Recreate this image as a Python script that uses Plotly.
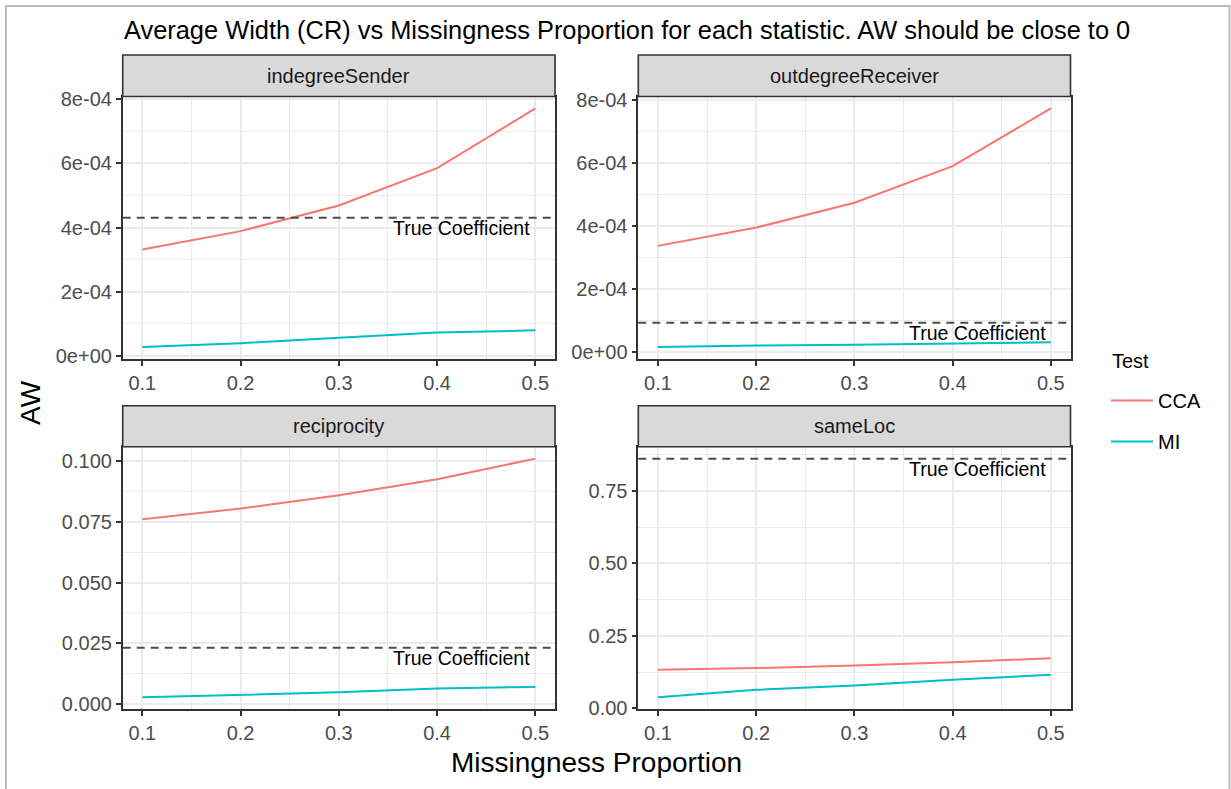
import plotly.graph_objects as go

# ---- data -------------------------------------------------------------
proportions = [0.1, 0.2, 0.3, 0.4, 0.5]
statistics = ["indegreeSender", "outdegreeReceiver", "reciprocity", "sameLoc"]
tests = ["CCA", "MI"]

cca_indegree = [3.32e-4, 3.89e-4, 4.69e-4, 5.85e-4, 7.71e-4]
mi_indegree = [0.28e-4, 0.40e-4, 0.57e-4, 0.73e-4, 0.80e-4]
cca_outdegree = [3.37e-4, 3.95e-4, 4.74e-4, 5.90e-4, 7.73e-4]
mi_outdegree = [0.16e-4, 0.21e-4, 0.23e-4, 0.27e-4, 0.31e-4]
cca_reciprocity = [0.0761, 0.0805, 0.0860, 0.0926, 0.1011]
mi_reciprocity = [0.0027, 0.0038, 0.0048, 0.0064, 0.0070]
cca_sameloc = [0.133, 0.139, 0.148, 0.159, 0.173]
mi_sameloc = [0.038, 0.064, 0.079, 0.099, 0.116]

true_coefficients = [4.31e-4, 0.93e-4, 0.0232, 0.8615]

sci_tickvals = [0, 2e-4, 4e-4, 6e-4, 8e-4]
sci_ticktext = ["0e+00", "2e-04", "4e-04", "6e-04", "8e-04"]
recip_tickvals = [0, 0.025, 0.05, 0.075, 0.1]
recip_ticktext = ["0.000", "0.025", "0.050", "0.075", "0.100"]
sameloc_tickvals = [0, 0.25, 0.5, 0.75]
sameloc_ticktext = ["0.00", "0.25", "0.50", "0.75"]

# ---- styling ----------------------------------------------------------
W, H = 1231, 789
FONT = "Liberation Sans, Arial, sans-serif"
colors = {"CCA": "#F8766D", "MI": "#00BFC4"}
GRID = "#EBEBEB"
DARK = "#333333"


def px(x):
    return x / W


def py(y):
    return 1 - y / H


cols = [(122.7, 555.0), (638.3, 1070.5)]
rows = [((55.0, 96.5), (96.5, 359.0)), ((405.7, 446.7), (446.7, 709.3))]

panels = [
    (cca_indegree, mi_indegree, sci_tickvals, sci_ticktext, 1e-4),
    (cca_outdegree, mi_outdegree, sci_tickvals, sci_ticktext, 1e-4),
    (cca_reciprocity, mi_reciprocity, recip_tickvals, recip_ticktext, 0.0125),
    (cca_sameloc, mi_sameloc, sameloc_tickvals, sameloc_ticktext, 0.125),
]

fig = go.Figure()
layout = dict(
    width=W, height=H,
    margin=dict(l=0, r=0, t=0, b=0, pad=0, autoexpand=False),
    paper_bgcolor="white", plot_bgcolor="white",
    font=dict(family=FONT, size=20, color="#4D4D4D"),
    showlegend=True,
)
shapes = []
annotations = []

for i, (stat, (cca, mi, tv, tt, minor_dy)) in enumerate(zip(statistics, panels)):
    n = i + 1
    r, c = divmod(i, 2)
    (s0, s1), (p0, p1) = rows[r]
    x0, x1 = cols[c]
    xa = "xaxis" if n == 1 else f"xaxis{n}"
    ya = "yaxis" if n == 1 else f"yaxis{n}"
    xr = "x" if n == 1 else f"x{n}"
    yr = "y" if n == 1 else f"y{n}"

    for test, vals in zip(tests, (cca, mi)):
        fig.add_trace(go.Scatter(
            x=proportions, y=vals, mode="lines", name=test,
            line=dict(color=colors[test], width=2),
            xaxis=xr, yaxis=yr, legendgroup=test, showlegend=(i == 0),
        ))

    # ggplot-style 5% expansion of the continuous scales
    xmin, xmax = min(proportions), max(proportions)
    xpad = 0.05 * (xmax - xmin)
    allv = list(cca) + list(mi) + [true_coefficients[i]]
    ymin, ymax = min(allv), max(allv)
    ypad = 0.05 * (ymax - ymin)

    common = dict(
        showgrid=True, gridcolor=GRID, gridwidth=1.6,
        showline=True, linecolor=DARK, linewidth=1.6, mirror=True,
        ticks="outside", ticklen=5, tickwidth=1.6, tickcolor=DARK,
        tickfont=dict(size=20, color="#4D4D4D"), zeroline=False,
        automargin=False,
    )
    layout[xa] = dict(
        domain=[px(x0), px(x1)], anchor=yr, range=[xmin - xpad, xmax + xpad],
        tickmode="linear", tick0=0.1, dtick=0.1,
        minor=dict(showgrid=True, gridcolor=GRID, gridwidth=0.8, tickmode="linear",
                   tick0=0.05, dtick=0.05, ticks=""),
        **common,
    )
    layout[ya] = dict(
        domain=[py(p1), py(p0)], anchor=xr, range=[ymin - ypad, ymax + ypad],
        tickmode="array", tickvals=tv, ticktext=tt,
        minor=dict(showgrid=True, gridcolor=GRID, gridwidth=0.8, tickmode="linear",
                   tick0=0, dtick=minor_dy, ticks=""),
        **common,
    )

    # facet strip
    shapes.append(dict(type="rect", xref="paper", yref="paper",
                       x0=px(x0), x1=px(x1), y0=py(s1), y1=py(s0),
                       fillcolor="#D9D9D9", line=dict(color=DARK, width=1.6), layer="above"))
    annotations.append(dict(text=stat, xref="paper", yref="paper",
                            x=px((x0 + x1) / 2), y=py((s0 + s1) / 2),
                            xanchor="center", yanchor="middle", showarrow=False,
                            font=dict(size=20, color="#1A1A1A")))

    # reference line for the true coefficient
    shapes.append(dict(type="line", xref=f"{xr} domain", yref=yr,
                       x0=0, x1=1, y0=true_coefficients[i], y1=true_coefficients[i],
                       line=dict(color="#4D4D4D", width=2, dash="8px,6px")))
    annotations.append(dict(text="True Coefficient", xref=xr, yref=yr,
                            x=0.425, y=true_coefficients[i], yshift=-10,
                            xanchor="center", yanchor="middle", showarrow=False,
                            font=dict(size=19.5, color="black")))

# titles
annotations.append(dict(text="Average Width (CR) vs Missingness Proportion for each statistic. AW should be close to 0",
                        xref="paper", yref="paper", x=px(122), y=py(30),
                        xanchor="left", yanchor="middle", showarrow=False,
                        font=dict(size=25.4, color="black")))
annotations.append(dict(text="Missingness Proportion", xref="paper", yref="paper",
                        x=px(596), y=py(762), xanchor="center", yanchor="middle",
                        showarrow=False, font=dict(size=28, color="black")))
annotations.append(dict(text="AW", xref="paper", yref="paper",
                        x=px(31), y=py(403), xanchor="center", yanchor="middle",
                        textangle=-90, showarrow=False, font=dict(size=28, color="black")))
# legend heading
annotations.append(dict(text="Test", xref="paper", yref="paper",
                        x=px(1110), y=py(361), xanchor="left", yanchor="middle",
                        showarrow=False, font=dict(size=20, color="black")))

# outer frame
frame = "#BBBBBB"
shapes.append(dict(type="line", xref="paper", yref="paper", x0=px(5), x1=px(1230), y0=py(6), y1=py(6), line=dict(color=frame, width=2)))
shapes.append(dict(type="line", xref="paper", yref="paper", x0=px(6), x1=px(6), y0=py(5), y1=0, line=dict(color=frame, width=2)))
shapes.append(dict(type="line", xref="paper", yref="paper", x0=px(1229.5), x1=px(1229.5), y0=py(5), y1=0, line=dict(color=frame, width=2)))

layout["shapes"] = shapes
layout["annotations"] = annotations
layout["legend"] = dict(
    x=px(1106), y=py(381), xanchor="left", yanchor="top",
    font=dict(size=20, color="black"), bgcolor="rgba(0,0,0,0)",
    traceorder="grouped", tracegroupgap=12, itemwidth=42,
)
fig.update_layout(**layout)
fig.write_html("out.html")
